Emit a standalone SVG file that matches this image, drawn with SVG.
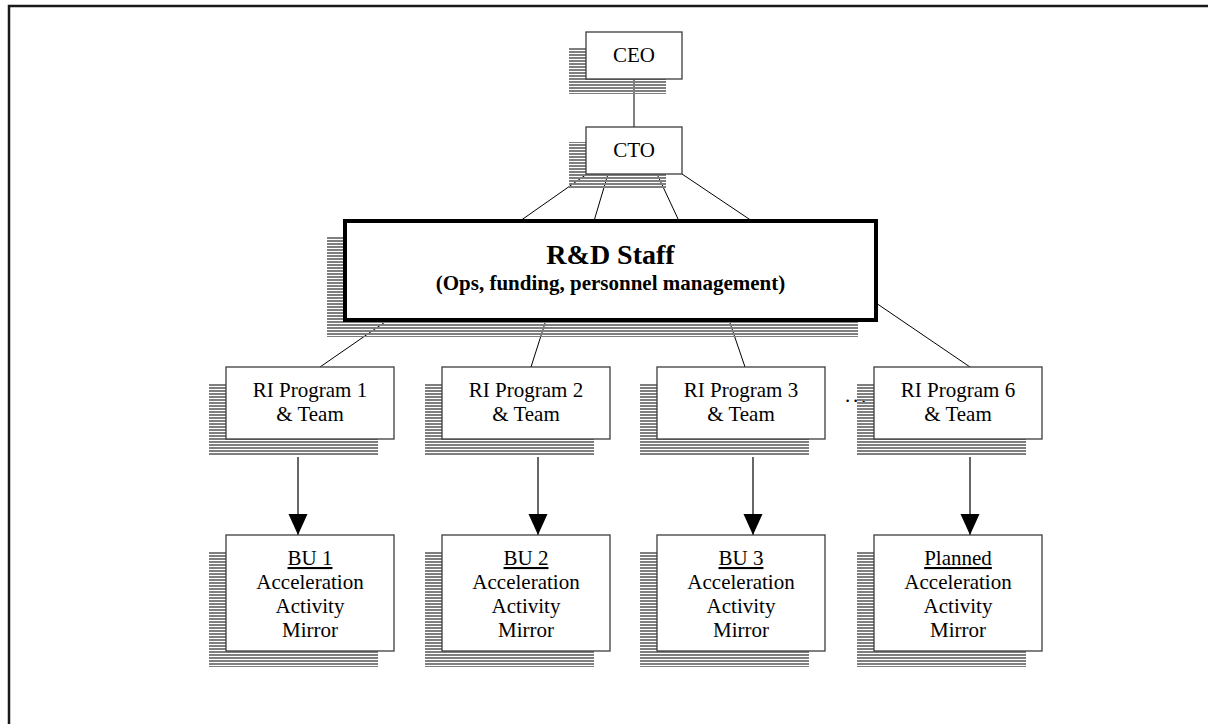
<svg xmlns="http://www.w3.org/2000/svg" width="1208" height="724" viewBox="0 0 1208 724">
  <defs>
    <!-- horizontal striped drop shadow fill -->
    <pattern id="hatch" width="8" height="3" patternUnits="userSpaceOnUse">
      <rect x="0" y="0" width="8" height="2" fill="#7f7f7f"/>
    </pattern>
    <marker id="arrow" markerUnits="userSpaceOnUse" markerWidth="22" markerHeight="20" refX="21" refY="9.5" orient="auto">
      <path d="M0,0 L21,9.5 L0,19 Z" fill="#000"/>
    </marker>
  </defs>
  <style>
    .box{fill:#fff;stroke:#3c3c3c;stroke-width:1.3}
    .main{fill:#fff;stroke:#000;stroke-width:4}
    .shadow{fill:url(#hatch)}
    .t{font-family:"Liberation Serif","Times New Roman",serif;font-size:21px;text-anchor:middle;fill:#000}
    .b{font-weight:bold}
    .title{font-size:28px}
    .conn{stroke:#000;stroke-width:1;fill:none}
    .arr{stroke:#000;stroke-width:1.2;fill:none;marker-end:url(#arrow)}
  </style>

  <rect width="1208" height="724" fill="#fff"/>
  <!-- page frame -->
  <path d="M9,730 V6 H1215" fill="none" stroke="#1a1a1a" stroke-width="2.5"/>

  <g id="connectors">
    <line class="conn" x1="634" y1="79" x2="634" y2="127"/>
    <line class="conn" x1="587" y1="174" x2="520" y2="221"/>
    <line class="conn" x1="608" y1="174" x2="594" y2="221"/>
    <line class="conn" x1="657" y1="174" x2="679" y2="221"/>
    <line class="conn" x1="682" y1="174" x2="752" y2="221"/>
    <line class="conn" x1="388" y1="320" x2="320" y2="367"/>
    <line class="conn" x1="546" y1="320" x2="531" y2="367"/>
    <line class="conn" x1="729" y1="320" x2="745" y2="367"/>
    <line class="conn" x1="876" y1="303" x2="970" y2="367"/>
    <line class="arr" x1="298" y1="457" x2="298" y2="535"/>
    <line class="arr" x1="538" y1="457" x2="538" y2="535"/>
    <line class="arr" x1="753" y1="457" x2="753" y2="535"/>
    <line class="arr" x1="970" y1="457" x2="970" y2="535"/>
  </g>

  <g id="ceo">
    <rect class="shadow" x="569" y="47" width="97" height="47"/>
    <rect class="box" x="586" y="32" width="96" height="47"/>
    <text class="t" x="634" y="62">CEO</text>
  </g>

  <g id="cto">
    <rect class="shadow" x="569" y="142" width="97" height="47"/>
    <rect class="box" x="586" y="127" width="96" height="47"/>
    <text class="t" x="634" y="157">CTO</text>
  </g>

  <g id="rd-staff">
    <rect class="shadow" x="327" y="237" width="531" height="100"/>
    <rect class="main" x="345" y="221" width="531" height="99"/>
    <text class="t b title" x="610.5" y="264">R&amp;D Staff</text>
    <text class="t b" x="610.5" y="290">(Ops, funding, personnel management)</text>
  </g>

  <g id="ellipsis">
    <text class="t" x="857" y="402" letter-spacing="2.7">...</text>
  </g>

  <g id="ri-program-1">
    <rect class="shadow" x="209" y="383" width="169" height="72"/>
    <rect class="box" x="226" y="367" width="168" height="72"/>
    <text class="t" x="310" y="397">RI Program 1</text>
    <text class="t" x="310" y="421">&amp; Team</text>
  </g>

  <g id="ri-program-2">
    <rect class="shadow" x="425" y="383" width="169" height="72"/>
    <rect class="box" x="442" y="367" width="168" height="72"/>
    <text class="t" x="526" y="397">RI Program 2</text>
    <text class="t" x="526" y="421">&amp; Team</text>
  </g>

  <g id="ri-program-3">
    <rect class="shadow" x="640" y="383" width="169" height="72"/>
    <rect class="box" x="657" y="367" width="168" height="72"/>
    <text class="t" x="741" y="397">RI Program 3</text>
    <text class="t" x="741" y="421">&amp; Team</text>
  </g>

  <g id="ri-program-6">
    <rect class="shadow" x="857" y="383" width="169" height="72"/>
    <rect class="box" x="874" y="367" width="168" height="72"/>
    <text class="t" x="958" y="397">RI Program 6</text>
    <text class="t" x="958" y="421">&amp; Team</text>
  </g>

  <g id="bu-1">
    <rect class="shadow" x="209" y="551" width="169" height="116"/>
    <rect class="box" x="226" y="535" width="168" height="116"/>
    <text class="t" x="310" y="565" text-decoration="underline">BU 1</text>
    <text class="t" x="310" y="589">Acceleration</text>
    <text class="t" x="310" y="613">Activity</text>
    <text class="t" x="310" y="637">Mirror</text>
  </g>

  <g id="bu-2">
    <rect class="shadow" x="425" y="551" width="169" height="116"/>
    <rect class="box" x="442" y="535" width="168" height="116"/>
    <text class="t" x="526" y="565" text-decoration="underline">BU 2</text>
    <text class="t" x="526" y="589">Acceleration</text>
    <text class="t" x="526" y="613">Activity</text>
    <text class="t" x="526" y="637">Mirror</text>
  </g>

  <g id="bu-3">
    <rect class="shadow" x="640" y="551" width="169" height="116"/>
    <rect class="box" x="657" y="535" width="168" height="116"/>
    <text class="t" x="741" y="565" text-decoration="underline">BU 3</text>
    <text class="t" x="741" y="589">Acceleration</text>
    <text class="t" x="741" y="613">Activity</text>
    <text class="t" x="741" y="637">Mirror</text>
  </g>

  <g id="bu-planned">
    <rect class="shadow" x="857" y="551" width="169" height="116"/>
    <rect class="box" x="874" y="535" width="168" height="116"/>
    <text class="t" x="958" y="565" text-decoration="underline">Planned</text>
    <text class="t" x="958" y="589">Acceleration</text>
    <text class="t" x="958" y="613">Activity</text>
    <text class="t" x="958" y="637">Mirror</text>
  </g>
</svg>
